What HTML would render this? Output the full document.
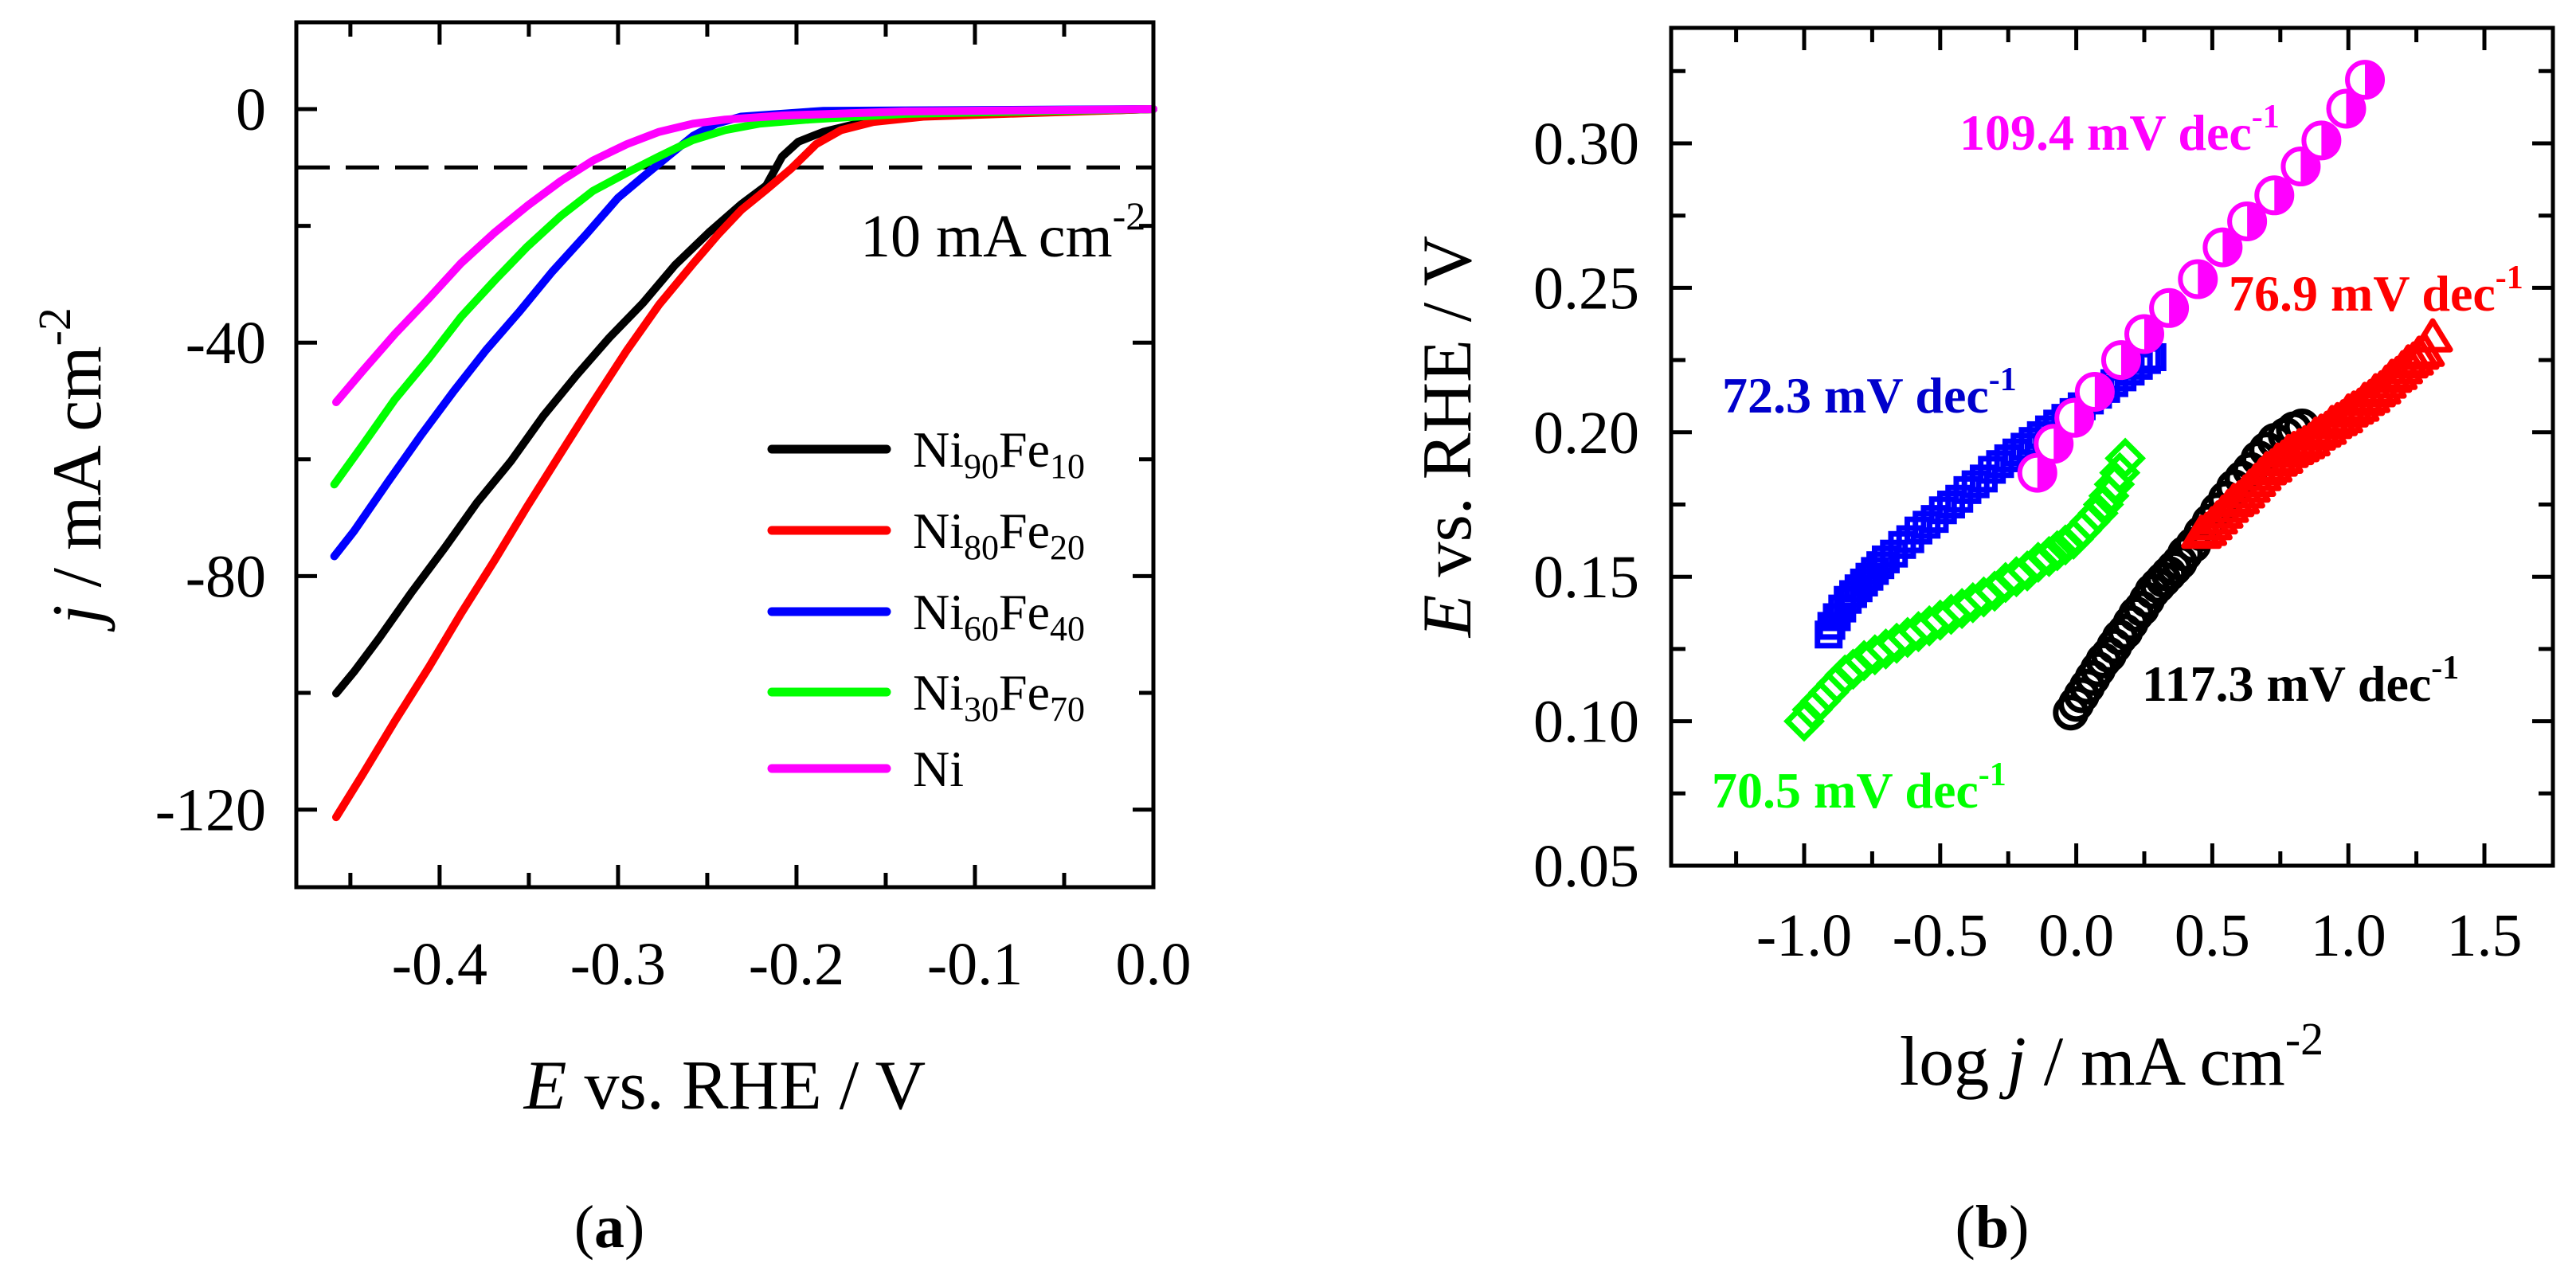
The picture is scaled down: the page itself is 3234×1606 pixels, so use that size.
<!DOCTYPE html>
<html><head><meta charset="utf-8"><style>
html,body{margin:0;padding:0;background:#fff;}
svg{display:block;font-family:"Liberation Serif",serif;}
</style></head><body>
<svg id="fig" width="3234" height="1606" viewBox="0 0 3234 1606" xmlns="http://www.w3.org/2000/svg">
<g id="pa"></g>
<g id="pb"></g>
</svg>
<script>
// ---------- Panel A data ----------
const aXTicks = [-0.4, -0.3, -0.2, -0.1, 0.0];
const aXTickLabels = ["-0.4", "-0.3", "-0.2", "-0.1", "0.0"];
const aYTicks = [0, -40, -80, -120];
const aYTickLabels = ["0", "-40", "-80", "-120"];
const aNames = ["Ni90Fe10", "Ni80Fe20", "Ni60Fe40", "Ni30Fe70", "Ni"];
const aColors = ["#000000", "#ff0000", "#0000ff", "#00ff00", "#ff00ff"];
const aBlackE = [-0.458,-0.448,-0.434,-0.416,-0.397,-0.379,-0.360,-0.342,-0.323,-0.305,-0.286,-0.268,-0.249,-0.231,-0.217,-0.208,-0.199,-0.185,-0.162,-0.139,-0.092,0];
const aBlackJ = [-100.1,-96.4,-90.7,-82.9,-75.1,-67.4,-60.3,-52.6,-45.5,-39.2,-33.2,-26.7,-21.1,-16.3,-13.1,-8.1,-5.6,-3.9,-2.2,-1.3,-0.8,0];
const aRedE = [-0.458,-0.443,-0.425,-0.406,-0.388,-0.369,-0.351,-0.332,-0.314,-0.295,-0.277,-0.258,-0.244,-0.231,-0.217,-0.203,-0.189,-0.175,-0.157,-0.129,-0.092,0];
const aRedJ = [-121.3,-113.9,-104.8,-95.6,-86.4,-77.2,-68.1,-58.9,-50.2,-41.3,-33.5,-26.5,-21.5,-17.3,-13.8,-10.2,-6.0,-3.6,-2.2,-1.3,-0.9,0];
const aBlueE = [-0.459,-0.448,-0.429,-0.411,-0.392,-0.374,-0.355,-0.337,-0.318,-0.300,-0.286,-0.272,-0.258,-0.245,-0.231,-0.185,0];
const aBlueJ = [-76.6,-72.3,-63.9,-56.1,-48.3,-41.3,-34.6,-27.9,-21.5,-15.2,-11.6,-8.1,-4.6,-2.5,-1.3,-0.3,0];
const aGreenE = [-0.459,-0.443,-0.425,-0.406,-0.388,-0.369,-0.351,-0.332,-0.314,-0.295,-0.277,-0.258,-0.240,-0.221,-0.194,-0.139,0];
const aGreenJ = [-64.3,-57.5,-49.7,-42.7,-35.6,-29.3,-23.6,-18.3,-14.0,-10.9,-8.1,-5.3,-3.6,-2.5,-1.8,-0.8,0];
const aMagE = [-0.458,-0.443,-0.425,-0.406,-0.388,-0.369,-0.351,-0.332,-0.314,-0.295,-0.277,-0.258,-0.240,-0.208,-0.139,0];
const aMagJ = [-50.2,-44.8,-38.5,-32.4,-26.4,-21.1,-16.6,-12.3,-8.8,-6.0,-3.9,-2.5,-1.8,-1.1,-0.4,0];
const aRefJ = [-10];

// ---------- Panel B data ----------
const bXTicks = [-1.0,-0.5,0.0,0.5,1.0,1.5];
const bXTickLabels = ["-1.0","-0.5","0.0","0.5","1.0","1.5"];
const bYTicks = [0.05,0.10,0.15,0.20,0.25,0.30];
const bYTickLabels = ["0.05","0.10","0.15","0.20","0.25","0.30"];
const bGreenX = [-1.0,-0.97,-0.94,-0.91,-0.88,-0.85,-0.82,-0.78,-0.74,-0.70,-0.66,-0.62,-0.58,-0.54,-0.50,-0.46,-0.42,-0.38,-0.34,-0.30,-0.26,-0.22,-0.18,-0.14,-0.10,-0.07,-0.04,-0.01,0.02,0.05,0.08,0.10,0.12,0.14,0.16,0.18];
const bGreenY = [0.100,0.104,0.107,0.110,0.113,0.116,0.118,0.121,0.123,0.125,0.127,0.129,0.131,0.133,0.135,0.137,0.139,0.141,0.143,0.145,0.148,0.150,0.152,0.155,0.157,0.159,0.161,0.163,0.166,0.169,0.172,0.175,0.178,0.182,0.186,0.191];
const bBlueX = [-0.91,-0.90,-0.88,-0.86,-0.84,-0.82,-0.80,-0.78,-0.76,-0.74,-0.72,-0.70,-0.67,-0.64,-0.61,-0.58,-0.55,-0.52,-0.49,-0.46,-0.43,-0.40,-0.37,-0.34,-0.31,-0.28,-0.25,-0.22,-0.19,-0.16,-0.13,-0.10,-0.07,-0.04,-0.01,0.02,0.05,0.08,0.11,0.14,0.17,0.20,0.23,0.26,0.28];
const bBlueY = [0.130,0.133,0.136,0.139,0.142,0.144,0.146,0.148,0.150,0.152,0.154,0.156,0.158,0.161,0.163,0.166,0.168,0.170,0.173,0.175,0.177,0.180,0.182,0.184,0.187,0.189,0.191,0.193,0.195,0.197,0.199,0.201,0.203,0.205,0.207,0.209,0.211,0.213,0.215,0.217,0.219,0.221,0.223,0.225,0.226];
const bMagX = [-0.143,-0.083,-0.007,0.068,0.165,0.250,0.341,0.447,0.538,0.628,0.728,0.825,0.901,0.992,1.061];
const bMagY = [0.186,0.196,0.205,0.214,0.225,0.234,0.243,0.253,0.264,0.273,0.282,0.292,0.301,0.312,0.322];
const bBlackX = [-0.02,0.00,0.02,0.04,0.06,0.08,0.10,0.12,0.14,0.16,0.18,0.20,0.22,0.24,0.26,0.28,0.30,0.32,0.34,0.36,0.38,0.40,0.43,0.46,0.49,0.52,0.55,0.58,0.61,0.64,0.67,0.70,0.73,0.77,0.80,0.83];
const bBlackY = [0.103,0.106,0.109,0.112,0.115,0.118,0.121,0.123,0.126,0.129,0.131,0.134,0.137,0.139,0.142,0.145,0.147,0.149,0.151,0.153,0.155,0.158,0.161,0.165,0.169,0.173,0.177,0.181,0.184,0.187,0.191,0.194,0.197,0.199,0.201,0.202];
const bRedX = [0.46,0.48,0.50,0.52,0.54,0.56,0.58,0.60,0.62,0.64,0.66,0.68,0.70,0.72,0.74,0.76,0.78,0.80,0.82,0.84,0.86,0.88,0.90,0.92,0.94,0.96,0.98,1.00,1.02,1.04,1.06,1.08,1.10,1.12,1.14,1.16,1.18,1.20,1.22,1.24,1.26,1.28,1.31];
const bRedY = [0.165,0.166,0.168,0.170,0.172,0.174,0.176,0.177,0.179,0.181,0.183,0.185,0.187,0.188,0.190,0.191,0.193,0.194,0.195,0.196,0.197,0.199,0.200,0.201,0.203,0.204,0.205,0.207,0.208,0.209,0.211,0.212,0.214,0.215,0.217,0.219,0.220,0.222,0.224,0.225,0.227,0.228,0.233];

const NS = "http://www.w3.org/2000/svg";
function mk(parent, tag, attrs, text){
  const e = document.createElementNS(NS, tag);
  for (const k in attrs) e.setAttribute(k, attrs[k]);
  if (text !== undefined) e.textContent = text;
  parent.appendChild(e);
  return e;
}

// ================= PANEL A =================
const pa = document.getElementById('pa');
const A = {l:372, r:1448, t:28, b:1114, xmin:-0.4803, xmax:0, y0:137, ppu:7.33};
const ax = v => A.r + (v - A.xmax) * (A.r - A.l) / (A.xmax - A.xmin);
const ay = v => A.y0 - v * A.ppu;

for (let k = -9; k <= 0; k++) {
  const v = k * 0.05, x = ax(v), len = (k % 2 === 0) ? 28 : 18;
  let t = mk(pa, 'line', {x1:x, y1:A.b, x2:x, y2:A.b - len, stroke:'#000', 'stroke-width':5});
  
  
  t = mk(pa, 'line', {x1:x, y1:A.t, x2:x, y2:A.t + len, stroke:'#000', 'stroke-width':5});
  
  
}
for (let v = 0; v >= -120; v -= 20) {
  const y = ay(v), len = (v % 40 === 0) ? 26 : 18;
  let t = mk(pa, 'line', {x1:A.l, y1:y, x2:A.l + len, y2:y, stroke:'#000', 'stroke-width':5});
  
  
  t = mk(pa, 'line', {x1:A.r, y1:y, x2:A.r - len, y2:y, stroke:'#000', 'stroke-width':5});
  
  
}
aXTicks.forEach((v, i) => {
  const t = mk(pa, 'text', {x:ax(v), y:1236, 'font-size':76, 'text-anchor':'middle'}, aXTickLabels[i]);
  
  
});
aYTicks.forEach((v, i) => {
  const t = mk(pa, 'text', {x:334, y:ay(v) + 26, 'font-size':76, 'text-anchor':'end'}, aYTickLabels[i]);
  
  
});

const ref = mk(pa, 'line', {x1:A.l, y1:ay(aRefJ[0]), x2:A.r, y2:ay(aRefJ[0]), stroke:'#000', 'stroke-width':5, 'stroke-dasharray':'42 20'});


const refLbl = mk(pa, 'text', {x:1080, y:322, 'font-size':76});


refLbl.innerHTML = '10 mA cm<tspan dy="-34" font-size="50">-2</tspan>';

const aSeries = [[aBlackE,aBlackJ],[aRedE,aRedJ],[aBlueE,aBlueJ],[aGreenE,aGreenJ],[aMagE,aMagJ]];
[0,1,2,3,4].forEach(i => {
  const [xs, ys] = aSeries[i];
  const d = xs.map((v, k) => (k ? 'L' : 'M') + ax(v).toFixed(1) + ' ' + ay(ys[k]).toFixed(1)).join(' ');
  const p = mk(pa, 'path', {d:d, fill:'none', stroke:aColors[i], 'stroke-width':10, 'stroke-linejoin':'round', 'stroke-linecap':'round'});
  
  
});

const fa = mk(pa, 'rect', {x:A.l, y:A.t, width:A.r - A.l, height:A.b - A.t, fill:'none', stroke:'#000', 'stroke-width':5});



const legY = [564, 666, 768, 869, 965];
const legLabels = [['90','10'],['80','20'],['60','40'],['30','70'],null];
aNames.forEach((n, i) => {
  const g = mk(pa, 'g', {});
  
  
  mk(g, 'line', {x1:969, y1:legY[i], x2:1113, y2:legY[i], stroke:aColors[i], 'stroke-width':11, 'stroke-linecap':'round'});
  const t = mk(g, 'text', {x:1146, y:legY[i] + 22, 'font-size':64});
  if (legLabels[i]) t.innerHTML = 'Ni<tspan dy="14" font-size="44">' + legLabels[i][0] + '</tspan><tspan dy="-14">Fe</tspan><tspan dy="14" font-size="44">' + legLabels[i][1] + '</tspan>';
  else t.textContent = 'Ni';
});

const axt = mk(pa, 'text', {x:910, y:1392, 'font-size':88, 'text-anchor':'middle'});


axt.innerHTML = '<tspan font-style="italic">E</tspan> vs. RHE / V';
const ayt = mk(pa, 'text', {x:0, y:0, 'font-size':88, 'text-anchor':'middle', transform:'translate(126,585) rotate(-90)'});


ayt.innerHTML = '<tspan font-style="italic">j</tspan> / mA cm<tspan dy="-38" font-size="58">-2</tspan>';
const capA = mk(pa, 'text', {x:765, y:1566, 'font-size':76, 'text-anchor':'middle'});


capA.innerHTML = '(<tspan font-weight="bold">a</tspan>)';

// ================= PANEL B =================
const pb = document.getElementById('pb');
const B = {l:2098, r:3205, t:35, b:1087};
const bx0 = 2265, bppx = 341.6, by0 = 180, bppy = 3628;
const bx = v => bx0 + (v + 1.0) * bppx;
const by = v => by0 - (v - 0.30) * bppy;

for (let v = -1.25; v <= 1.76; v += 0.25) {
  const x = bx(v), major = Math.abs(Math.round(v * 2) - v * 2) < 1e-6, len = major ? 28 : 18;
  if (x < B.l + 3 || x > B.r - 3) continue;
  let t = mk(pb, 'line', {x1:x, y1:B.b, x2:x, y2:B.b - len, stroke:'#000', 'stroke-width':5});
  
  
  t = mk(pb, 'line', {x1:x, y1:B.t, x2:x, y2:B.t + len, stroke:'#000', 'stroke-width':5});
  
  
}
for (let k = 2; k <= 13; k++) {
  const v = k * 0.025, y = by(v), len = (k % 2 === 0) ? 26 : 18;
  if (y < B.t + 3 || y > B.b + 1) continue;
  let t = mk(pb, 'line', {x1:B.l, y1:y, x2:B.l + len, y2:y, stroke:'#000', 'stroke-width':5});
  
  
  t = mk(pb, 'line', {x1:B.r, y1:y, x2:B.r - len, y2:y, stroke:'#000', 'stroke-width':5});
  
  
}
bXTicks.forEach((v, i) => {
  const t = mk(pb, 'text', {x:bx(v), y:1200, 'font-size':76, 'text-anchor':'middle'}, bXTickLabels[i]);
  
  
});
bYTicks.forEach((v, i) => {
  const t = mk(pb, 'text', {x:2058, y:by(v) + 26, 'font-size':76, 'text-anchor':'end'}, bYTickLabels[i]);
  
  
});

function drawMarkers(xs, ys, name, fn){
  const g = mk(pb, 'g', {});
  
  
  xs.forEach((v, k) => fn(g, bx(v), by(ys[k])));
}
drawMarkers(bGreenX, bGreenY, 'series-ni30fe70', (g, x, y) => {
  const s = 21;
  mk(g, 'polygon', {points:`${x},${y-s} ${x+s},${y} ${x},${y+s} ${x-s},${y}`, fill:'none', stroke:'#00ff00', 'stroke-width':7});
});
drawMarkers(bBlueX, bBlueY, 'series-ni60fe40', (g, x, y) => {
  const s = 14;
  mk(g, 'rect', {x:x - s, y:y - s, width:2*s, height:2*s, fill:'none', stroke:'#0000ff', 'stroke-width':7});
});
drawMarkers(bMagX, bMagY, 'series-ni', (g, x, y) => {
  const r = 22;
  mk(g, 'circle', {cx:x, cy:y, r:r, fill:'#fff', stroke:'#ff00ff', 'stroke-width':6});
  mk(g, 'path', {d:`M${x} ${y-r} A${r} ${r} 0 0 1 ${x} ${y+r} Z`, fill:'#ff00ff'});
});
drawMarkers(bBlackX, bBlackY, 'series-ni90fe10', (g, x, y) => {
  mk(g, 'circle', {cx:x, cy:y, r:19, fill:'none', stroke:'#000', 'stroke-width':7});
});
drawMarkers(bRedX, bRedY, 'series-ni80fe20', (g, x, y) => {
  const w = 22, h = 20;
  mk(g, 'polygon', {points:`${x},${y-h} ${x+w},${y+h*0.8} ${x-w},${y+h*0.8}`, fill:'none', stroke:'#ff0000', 'stroke-width':7, 'stroke-linejoin':'round'});
});

const fb = mk(pb, 'rect', {x:B.l, y:B.t, width:B.r - B.l, height:B.b - B.t, fill:'none', stroke:'#000', 'stroke-width':5});



const notes = [
  ['109.4', '#ff00ff', 2460, 188, 'slope-label-ni'],
  ['76.9', '#ff0000', 2798, 390, 'slope-label-ni80fe20'],
  ['72.3', '#0000cc', 2162, 518, 'slope-label-ni60fe40'],
  ['117.3', '#000000', 2689, 880, 'slope-label-ni90fe10'],
  ['70.5', '#00ff00', 2149, 1014, 'slope-label-ni30fe70']
];
notes.forEach(n => {
  const t = mk(pb, 'text', {x:n[2], y:n[3], 'font-size':64, 'font-weight':'bold', fill:n[1]});
  
  
  t.innerHTML = n[0] + ' mV dec<tspan dy="-28" font-size="42">-1</tspan>';
});

const bxt = mk(pb, 'text', {x:2651, y:1362, 'font-size':88, 'text-anchor':'middle'});


bxt.innerHTML = 'log <tspan font-style="italic">j</tspan> / mA cm<tspan dy="-38" font-size="58">-2</tspan>';
const byt = mk(pb, 'text', {x:0, y:0, 'font-size':88, 'text-anchor':'middle', transform:'translate(1846,548) rotate(-90)'});


byt.innerHTML = '<tspan font-style="italic">E</tspan> vs. RHE / V';
const capB = mk(pb, 'text', {x:2501, y:1566, 'font-size':76, 'text-anchor':'middle'});


capB.innerHTML = '(<tspan font-weight="bold">b</tspan>)';
</script>
</body></html>
